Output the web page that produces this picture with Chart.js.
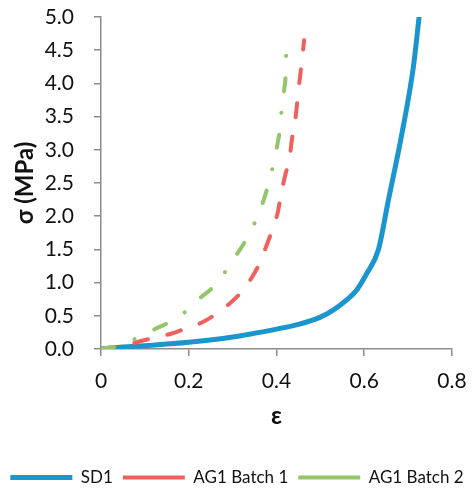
<!DOCTYPE html>
<html>
<head>
<meta charset="utf-8">
<script src="https://cdn.jsdelivr.net/npm/chart.js@4"></script>
<style>
  body { margin: 0; background: #fff; }
  #wrap { width: 474px; height: 490px; }
</style>
</head>
<body>
<div id="wrap"><canvas id="chart" width="474" height="490"></canvas></div>
<script>
// values
const sd1Strain = [0, 0.05, 0.1, 0.2, 0.3, 0.4, 0.45, 0.5, 0.53, 0.56, 0.583, 0.606, 0.632, 0.655, 0.686, 0.712, 0.725];
const sd1Stress = [0, 0.03, 0.05, 0.10, 0.18, 0.30, 0.37, 0.48, 0.59, 0.74, 0.89, 1.14, 1.49, 2.24, 3.25, 4.25, 5.0];

const batch1Strain = [0, 0.04, 0.075, 0.12, 0.16, 0.19, 0.23, 0.265, 0.294, 0.32, 0.344, 0.362, 0.378, 0.39, 0.403, 0.41, 0.42, 0.43, 0.435, 0.442, 0.447, 0.451, 0.456, 0.463];
const batch1Stress = [0, 0.04, 0.09, 0.17, 0.23, 0.30, 0.40, 0.54, 0.69, 0.86, 1.08, 1.30, 1.57, 1.79, 2.06, 2.32, 2.62, 2.88, 3.15, 3.40, 3.70, 3.95, 4.23, 4.65];

const batch2Strain = [0, 0.04, 0.077, 0.12, 0.157, 0.194, 0.226, 0.255, 0.287, 0.312, 0.333, 0.353, 0.369, 0.381, 0.392, 0.401, 0.408, 0.412, 0.418, 0.421, 0.422];
const batch2Stress = [0, 0.05, 0.15, 0.29, 0.41, 0.57, 0.77, 0.93, 1.20, 1.45, 1.67, 1.94, 2.21, 2.47, 2.76, 3.04, 3.33, 3.62, 3.93, 4.17, 4.49];

const seriesNames = ['SD1', 'AG1 Batch 1', 'AG1 Batch 2'];
const xTicks = [0, 0.2, 0.4, 0.6, 0.8];
const yTicks = [0, 0.5, 1, 1.5, 2, 2.5, 3, 3.5, 4, 4.5, 5];

function pairs(xs, ys) {
  return xs.map((x, i) => ({ x: x, y: ys[i] }));
}

const axisGrey = '#8c8c8c';
const txt = '#111';

const ctx = document.getElementById('chart');

new Chart(ctx, {
  type: 'line',
  data: {
    datasets: [
      {
        label: seriesNames[0],
        data: pairs(sd1Strain, sd1Stress),
        borderColor: '#1b95cd',
        backgroundColor: '#1b95cd',
        borderWidth: 5,
        borderCapStyle: 'round',
        pointRadius: 0,
        cubicInterpolationMode: 'monotone',
        order: 3
      },
      {
        label: seriesNames[1],
        data: pairs(batch1Strain, batch1Stress),
        borderColor: '#f0605c',
        backgroundColor: '#f0605c',
        borderWidth: 4,
        borderDash: [14, 20],
        borderCapStyle: 'round',
        pointRadius: 0,
        cubicInterpolationMode: 'monotone',
        order: 2
      },
      {
        label: seriesNames[2],
        data: pairs(batch2Strain, batch2Stress),
        borderColor: '#92c668',
        backgroundColor: '#92c668',
        borderWidth: 4,
        borderDash: [13, 22, 0.1, 22],
        borderCapStyle: 'round',
        pointRadius: 0,
        cubicInterpolationMode: 'monotone',
        order: 1
      }
    ]
  },
  options: {
    responsive: false,
    animation: false,
    layout: {
      padding: { top: 17, right: 0, left: 0, bottom: -6 }
    },
    scales: {
      x: {
        type: 'linear',
        min: 0,
        max: 0.8,
        afterBuildTicks: s => { s.ticks = xTicks.map(v => ({ value: v })); },
        afterFit: s => { s.height = 110; s.paddingRight = 22; },
        ticks: {
          padding: 13,
          color: txt,
          font: { family: 'Lato', size: 21 },
          callback: v => v === 0 ? '0' : v.toFixed(1)
        },
        grid: { drawOnChartArea: false, tickLength: 7, color: axisGrey, lineWidth: 1.5 },
        border: { color: axisGrey, width: 1.5 },
        title: {
          display: true,
          text: 'ε',
          color: txt,
          font: { family: 'Lato', size: 24, weight: 'bold' },
          padding: { top: 4, bottom: 28 }
        }
      },
      y: {
        min: 0,
        max: 5,
        afterBuildTicks: s => { s.ticks = yTicks.map(v => ({ value: v })); },
        afterFit: s => { s.width = 101; s.paddingTop = 0; s.paddingBottom = 0; },
        ticks: {
          padding: 20,
          color: txt,
          font: { family: 'Lato', size: 21 },
          callback: v => v.toFixed(1)
        },
        grid: { drawOnChartArea: false, tickLength: 7, color: axisGrey, lineWidth: 1.5 },
        border: { color: axisGrey, width: 1.5 },
        title: {
          display: true,
          text: 'σ (MPa)',
          color: txt,
          font: { family: 'Lato', size: 24, weight: 'bold' },
          padding: { top: 11, bottom: 0 }
        }
      }
    },
    plugins: {
      tooltip: { enabled: false },
      legend: {
        position: 'bottom',
        labels: {
          usePointStyle: true,
          pointStyle: 'line',
          pointStyleWidth: 62,
          boxHeight: 17,
          padding: 10,
          color: txt,
          font: { family: 'Lato', size: 17 },
          sort: (a, b) => a.datasetIndex - b.datasetIndex
        }
      }
    }
  }
});
</script>
</body>
</html>
